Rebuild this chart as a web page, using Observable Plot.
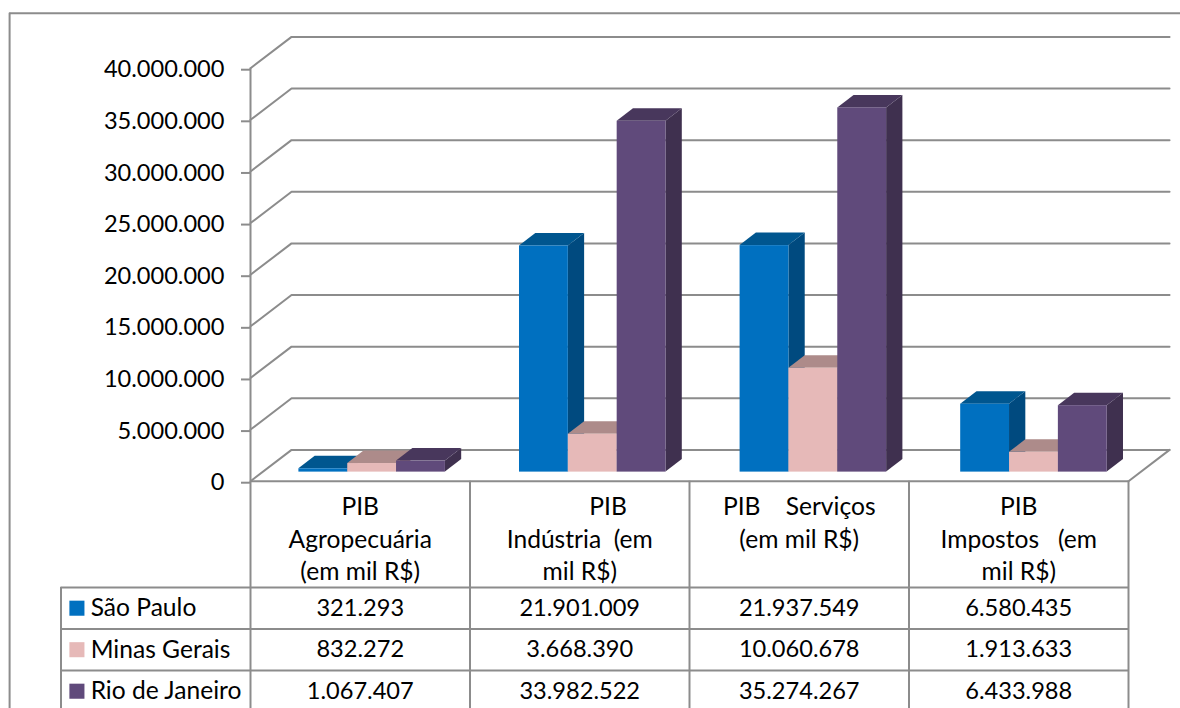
<!DOCTYPE html>
<html>
<head>
<meta charset="utf-8">
<script src="https://cdn.jsdelivr.net/npm/d3@7"></script>
<script src="https://cdn.jsdelivr.net/npm/@observablehq/plot@0.6"></script>
<style>
html,body{margin:0;padding:0;background:#fff;overflow:hidden}
</style>
</head>
<body>
<div id="chart"></div>
<script>
// ---- data ----
const categories = [
  "PIB\nAgropecuária\n(em mil R$)",
  "\u00a0\u00a0\u00a0\u00a0\u00a0\u00a0\u00a0\u00a0\u00a0PIB\nIndústria\u00a0\u00a0(em\nmil R$)",
  "PIB\u00a0\u00a0\u00a0\u00a0Serviços\n(em mil R$)",
  "PIB\nImpostos\u00a0\u00a0\u00a0(em\nmil R$)"
];
const seriesNames = ["São Paulo", "Minas Gerais", "Rio de Janeiro"];
const saoPaulo = [321293, 21901009, 21937549, 6580435];
const minasGerais = [832272, 3668390, 10060678, 1913633];
const rioDeJaneiro = [1067407, 33982522, 35274267, 6433988];
const seriesValues = [saoPaulo, minasGerais, rioDeJaneiro];
const yTicks = [0, 5e6, 10e6, 15e6, 20e6, 25e6, 30e6, 35e6, 40e6];

// ---- styles ----
const frontColors = ["#0070C0", "#E6B9B8", "#604A7B"];
const topColors = ["#00568F", "#AD8B8A", "#48375C"];
const sideColors = ["#004A7F", "#9A7B7A", "#3F304F"];
const lineColor = "#8C8C8C";
const fontFamily = "Lato, 'Open Sans', sans-serif";
const numberSize = 23.6, labelSize = 24.6;

// projection / layout in data units (x: one category = 1, y: R$ thousand)
const wallDx = 0.187, wallDy = 3.03e6;
const barStart = 0.2205, barStep = 1.005, barWidth = 0.2225;
const barDx = 0.0742, barDy = 1.21e6, barBase = 0.88e6;
const headerBottom = -10.29e6, rowHeight = 4.02e6;
const legendLeft = -0.8633, frameLeft = -1.0975, frameTop = 45.32e6, wallRight = 4 + wallDx;
const tableBottom = headerBottom - 3 * rowHeight;

const fmt = d3.formatLocale({decimal: ",", thousands: ".", grouping: [3], currency: ["", ""]}).format(",");

// bars
const bars = seriesValues.flatMap((vals, s) => vals.map((v, c) => {
  const x1 = barStart + c * barStep + s * barWidth;
  return {s, c, v, x1, x2: x1 + barWidth, y1: barBase, y2: barBase + v};
}));
const sideRows = s => bars.filter(b => b.s === s).flatMap(b => [
  {c: b.c, x: b.x2, y1: b.y1, y2: b.y2},
  {c: b.c, x: b.x2 + barDx, y1: b.y1 + barDy, y2: b.y2 + barDy}
]);
const topRows = s => bars.filter(b => b.s === s).flatMap(b => [
  {c: b.c, y: b.y2, x1: b.x1, x2: b.x2},
  {c: b.c, y: b.y2 + barDy, x1: b.x1 + barDx, x2: b.x2 + barDx}
]);
const barMarks = seriesNames.flatMap((_, s) => [
  Plot.areaY(sideRows(s), {x: "x", y1: "y1", y2: "y2", z: "c", fill: sideColors[s]}),
  Plot.areaX(topRows(s), {y: "y", x1: "x1", x2: "x2", z: "c", fill: topColors[s]}),
  Plot.rect(bars.filter(b => b.s === s), {x1: "x1", x2: "x2", y1: "y1", y2: "y2", fill: frontColors[s]})
]);

// wall grid lines
const gridRows = yTicks.flatMap(v => [
  {v, x: 0, y: v},
  {v, x: wallDx, y: v + wallDy},
  {v, x: wallRight, y: v + wallDy}
]);
const floorEdge = [{x: 4, y: 0}, {x: wallRight, y: wallDy}];

// table
const rowLines = [0, 1, 2, 3].map(r => headerBottom - r * rowHeight);
const rowCentre = r => headerBottom - (r + 0.5) * rowHeight;
const cellRows = seriesValues.flatMap((vals, s) => vals.map((v, c) => ({x: c + 0.5, y: rowCentre(s), t: fmt(v)})));
const legendRows = seriesNames.map((name, s) => ({name, s, y: rowCentre(s)}));
const headerRows = categories.map((t, c) => ({t, x: c + 0.5}));
const lineStyle = {stroke: lineColor, strokeWidth: 2};
const numberStyle = {fontFamily, fontSize: numberSize, fill: "#000"};
const labelStyle = {fontFamily, fontSize: labelSize, fill: "#000"};

const plot = Plot.plot({
  width: 1180, height: 708,
  marginLeft: 250, marginRight: 52, marginTop: 67.7, marginBottom: 227.3,
  style: {fontFamily, background: "#fff"},
  x: {type: "linear", domain: [0, 4], axis: null},
  y: {domain: [0, 40e6], axis: null},
  marks: [
    // outer frame
    Plot.ruleX([frameLeft], {y1: tableBottom, y2: frameTop, ...lineStyle}),
    Plot.ruleY([frameTop], {x1: frameLeft, x2: 5, ...lineStyle}),
    // walls
    Plot.line(gridRows, {x: "x", y: "y", z: "v", ...lineStyle}),
    Plot.line(floorEdge, {x: "x", y: "y", ...lineStyle}),
    // table
    Plot.ruleY([0], {x1: 0, x2: 4, ...lineStyle}),
    Plot.ruleY(rowLines, {x1: legendLeft, x2: 4, ...lineStyle}),
    Plot.ruleX([0, 1, 2, 3, 4], {y1: tableBottom, y2: 0, ...lineStyle}),
    Plot.ruleX([0], {y1: 0, y2: 40e6, ...lineStyle}),
    Plot.ruleX([legendLeft], {y1: headerBottom, y2: tableBottom, ...lineStyle}),
    // bars
    ...barMarks,
    // axis
    Plot.axisY({
      anchor: "left", ticks: yTicks, tickFormat: fmt, tickSize: 9, tickPadding: 17,
      stroke: lineColor, strokeWidth: 2, label: null, dy: 1.5, ...numberStyle
    }),
    // table texts
    Plot.text(headerRows, {x: "x", y: -1.05e6, text: "t", lineAnchor: "top", lineHeight: 1.32, ...labelStyle}),
    Plot.text(cellRows, {x: "x", y: "y", text: "t", ...numberStyle}),
    Plot.text(legendRows, {x: legendLeft + 0.135, y: "y", text: "name", textAnchor: "start", ...labelStyle}),
    Plot.dot(legendRows, {x: legendLeft + 0.0725, y: "y", symbol: "square", r: 8.5, fill: d => frontColors[d.s]})
  ]
});
document.getElementById("chart").appendChild(plot);
</script>
</body>
</html>
